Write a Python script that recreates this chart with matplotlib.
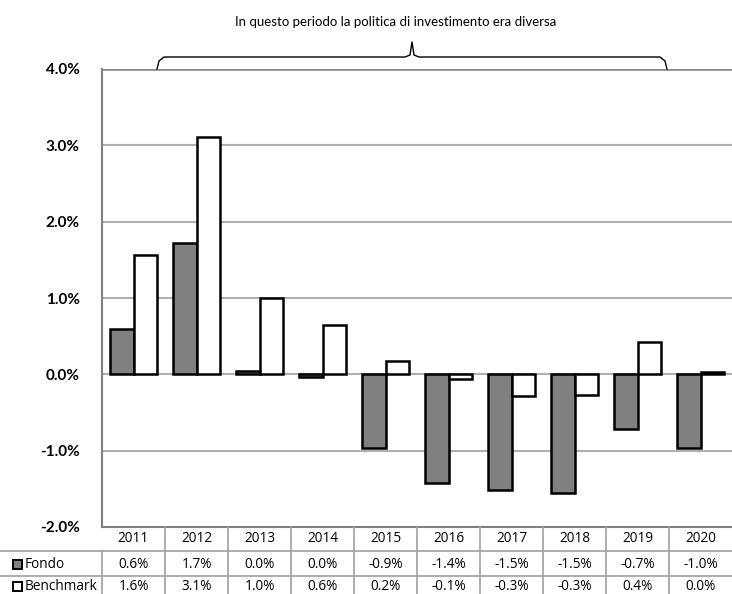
import matplotlib.pyplot as plt
import numpy as np
from matplotlib.lines import Line2D
from matplotlib.patches import Rectangle

# Dati
anni = ['2011', '2012', '2013', '2014', '2015', '2016', '2017', '2018', '2019', '2020']
fondo = [0.59, 1.72, 0.04, -0.03, -0.96, -1.43, -1.52, -1.55, -0.71, -0.97]
benchmark = [1.56, 3.11, 1.00, 0.64, 0.17, -0.06, -0.29, -0.27, 0.43, 0.03]
fondo_lbl = ['0.6%', '1.7%', '0.0%', '0.0%', '-0.9%', '-1.4%', '-1.5%', '-1.5%', '-0.7%', '-1.0%']
bench_lbl = ['1.6%', '3.1%', '1.0%', '0.6%', '0.2%', '-0.1%', '-0.3%', '-0.3%', '0.4%', '0.0%']
yticks = [-2, -1, 0, 1, 2, 3, 4]

W, H = 732, 594
fig = plt.figure(figsize=(W / 100, H / 100), dpi=100)
plt.rcParams['font.family'] = ['Lato', 'DejaVu Sans']
tab_font = ['Open Sans', 'DejaVu Sans']

def fx(px):
    return px / W

def fy(py):
    return 1 - py / H

left, right, top, bottom = 102, 732, 69, 527
ax = fig.add_axes([fx(left), fy(bottom), fx(right - left), fy(top) - fy(bottom)])

x = np.arange(len(anni))
bw = 0.375
ax.bar(x - bw / 2, fondo, bw, color='#808080', edgecolor='black', linewidth=1.8, zorder=3)
ax.bar(x + bw / 2, benchmark, bw, color='white', edgecolor='black', linewidth=1.8, zorder=3)

ax.set_xlim(-0.5, len(anni) - 0.5)
ax.set_ylim(-2, 4)
ax.set_yticks(yticks)
ax.set_yticklabels([f'{v:.1f}%' for v in yticks], fontsize=11, fontweight='bold')
ax.set_xticks([])
for v in yticks[1:]:
    ax.axhline(v, color='#b0b0b0', linewidth=1.5, zorder=1)
ax.axhline(4, color='#909090', linewidth=2, zorder=2)
for s in ['top', 'right']:
    ax.spines[s].set_visible(False)
ax.spines['left'].set_color('#808080')
ax.spines['left'].set_linewidth(1.5)
ax.spines['bottom'].set_color('#808080')
ax.spines['bottom'].set_linewidth(1.5)
ax.tick_params(axis='y', length=0, pad=16)

# Tabella dati
line_kw = dict(color='#a0a0a0', linewidth=1.2, transform=fig.transFigure)
for yy in [551, 576]:
    fig.add_artist(Line2D([0, 1], [fy(yy), fy(yy)], **line_kw))
cw = (right - left) / len(anni)
for k in range(1, len(anni)):
    xx = left + k * cw
    fig.add_artist(Line2D([fx(xx), fx(xx)], [fy(bottom), 0], **line_kw))
fig.add_artist(Line2D([fx(left), fx(left)], [fy(551), 0], **line_kw))

for i in range(len(anni)):
    cx = fx(left + (i + 0.5) * cw)
    fig.text(cx, fy(539), anni[i], ha='center', va='center', fontsize=9.8, family=tab_font)
    fig.text(cx, fy(564), fondo_lbl[i], ha='center', va='center', fontsize=9.8, family=tab_font)
    fig.text(cx, fy(587), bench_lbl[i], ha='center', va='center', fontsize=9.8, family=tab_font)

fig.add_artist(Rectangle((fx(13), fy(569)), fx(9), fy(560) - fy(569), facecolor='#808080',
                         edgecolor='black', linewidth=1.4, transform=fig.transFigure))
fig.add_artist(Rectangle((fx(13), fy(591)), fx(9), fy(582) - fy(591), facecolor='white',
                         edgecolor='black', linewidth=1.4, transform=fig.transFigure))
fig.text(fx(25), fy(564), 'Fondo', ha='left', va='center', fontsize=9.8, family=tab_font)
fig.text(fx(25), fy(587), 'Benchmark', ha='left', va='center', fontsize=9.8, family=tab_font)

# Parentesi graffa
bx = [157, 159, 164, 405, 410, 412, 414, 419, 660, 665, 667]
by = [69, 61, 57, 57, 55, 42, 55, 57, 57, 61, 69]
fig.add_artist(Line2D([fx(v) for v in bx], [fy(v) for v in by], color='black', linewidth=1,
                      transform=fig.transFigure))
fig.text(fx(396), fy(22), 'In questo periodo la politica di investimento era diversa',
         ha='center', va='center', fontsize=9.5)

fig.savefig('out.png', dpi=100)
